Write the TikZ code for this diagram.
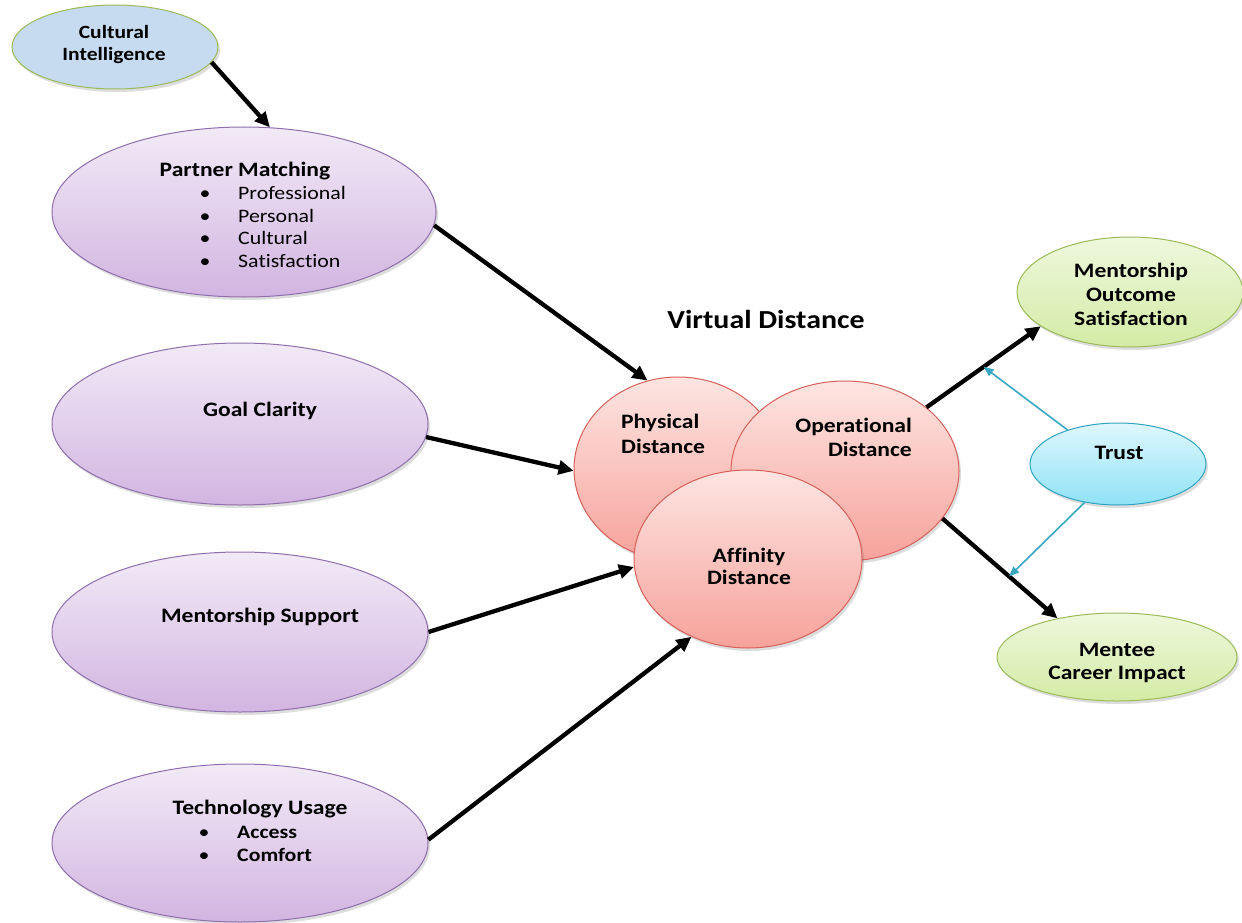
\documentclass[tikz,border=0pt]{standalone}
\usepackage{fontspec}
\setmainfont[FakeStretch=1.15, Ligatures={NoCommon}]{Carlito}
\usetikzlibrary{shapes.geometric,arrows.meta,shadows}
\definecolor{purptop}{HTML}{F2EAF7}
\definecolor{purpbot}{HTML}{D2B5E1}
\definecolor{purpline}{HTML}{8E6FAC}
\definecolor{pinktop}{HTML}{FDE5E2}
\definecolor{pinkbot}{HTML}{F7A29B}
\definecolor{pinkline}{HTML}{D6605A}
\definecolor{greentop}{HTML}{EEF8DD}
\definecolor{greenbot}{HTML}{D3EBA5}
\definecolor{greenline}{HTML}{9BBB59}
\definecolor{bluetop}{HTML}{DFF7FD}
\definecolor{bluebot}{HTML}{8FE2F6}
\definecolor{blueline}{HTML}{2EA3C0}
\definecolor{cifill}{HTML}{C6DBEF}
\definecolor{tealarrow}{HTML}{37A7C2}
\tikzset{
  shad/.style={drop shadow={opacity=0.22, shadow xshift=2pt, shadow yshift=-3pt, fill=black!60}},
  base/.style={ellipse, inner sep=0pt, line width=1pt, shad},
  purp/.style={base, draw=purpline, top color=purptop, bottom color=purpbot},
  pink/.style={base, draw=pinkline, top color=pinktop, bottom color=pinkbot},
  green/.style={base, draw=greenline, top color=greentop, bottom color=greenbot},
  blue/.style={base, draw=blueline, top color=bluetop, bottom color=bluebot},
  lab/.style={font=\fontsize{20.5}{24}\selectfont\bfseries, inner sep=0pt, anchor=base},
  cilab/.style={font=\fontsize{18.7}{22}\selectfont\bfseries, inner sep=0pt, anchor=base},
  itemr/.style={font=\fontsize{19}{23}\selectfont, inner sep=0pt, anchor=base west},
  itemb/.style={font=\fontsize{19}{23}\selectfont\bfseries, inner sep=0pt, anchor=base west},
  bul/.style={font=\fontsize{19}{23}\selectfont, inner sep=0pt, anchor=base},
  arr/.style={line width=4.3pt, -{Triangle[length=15pt,width=14pt]}},
  tarr/.style={draw=tealarrow, line width=1.6pt, -{Triangle[length=10pt,width=8pt]}},
}
\begin{document}
\begin{tikzpicture}[x=1pt,y=-1pt]
\useasboundingbox (0,0) rectangle (1242,923);
\fill[white] (0,0) rectangle (1242,923);

% ellipses
\node[base, draw=greenline, fill=cifill, minimum width=206pt, minimum height=84pt] (ci) at (115,47) {};
\node[purp, minimum width=384pt, minimum height=170pt] (pm) at (244,212) {};
\node[purp, minimum width=376pt, minimum height=162pt] (gc) at (240,424) {};
\node[purp, minimum width=376pt, minimum height=160pt] (ms) at (240,632) {};
\node[purp, minimum width=376pt, minimum height=158pt] (tu) at (240,843) {};
\node[pink, minimum width=208pt, minimum height=184pt] (pd) at (678,469) {};
\node[pink, minimum width=228pt, minimum height=180pt] (od) at (845,471) {};
\node[pink, minimum width=228pt, minimum height=178pt] (ad) at (748,559) {};
\node[green, minimum width=226pt, minimum height=110pt] (mos) at (1130,292) {};
\node[blue, minimum width=176pt, minimum height=82pt] (tr) at (1118,464) {};
\node[green, minimum width=240pt, minimum height=88pt] (mci) at (1117,657) {};

% texts
\node[cilab] (ci1) at (114,39) {Cultural};
\node[cilab] (ci2) at (114,61) {Intelligence};
\node[lab] (pmt) at (245,176) {Partner Matching};
\node[bul] (pmb1) at (205,199) {•};
\node[bul] (pmb2) at (205,222) {•};
\node[bul] (pmb3) at (205,244) {•};
\node[bul] (pmb4) at (205,267) {•};
\node[itemr] (pm1) at (238,199) {Professional};
\node[itemr] (pm2) at (238,222) {Personal};
\node[itemr] (pm3) at (238,244) {Cultural};
\node[itemr] (pm4) at (238,267) {Satisfaction};
\node[lab] (gct) at (260,416) {Goal Clarity};
\node[lab] (mst) at (260,622) {Mentorship Support};
\node[lab] (tut) at (260,814) {Technology Usage};
\node[bul] (tub1) at (204,838) {•};
\node[bul] (tub2) at (204,861) {•};
\node[itemb] (tu1) at (237,838) {Access};
\node[itemb] (tu2) at (237,861) {Comfort};
\node[lab, font=\fontsize{26}{30}\selectfont\bfseries] (vd) at (766,328) {Virtual Distance};
\node[lab, anchor=base west] (pd1) at (621,428) {Physical};
\node[lab, anchor=base west] (pd2) at (621,453) {Distance};
\node[lab, anchor=base east] (od1) at (912,432) {Operational};
\node[lab, anchor=base east] (od2) at (912,456) {Distance};
\node[lab] (ad1) at (749,562) {Affinity};
\node[lab] (ad2) at (749,584) {Distance};
\node[lab] (mos1) at (1131,277) {Mentorship};
\node[lab] (mos2) at (1131,301) {Outcome};
\node[lab] (mos3) at (1131,325) {Satisfaction};
\node[lab] (trt) at (1119,459) {Trust};
\node[lab] (mci1) at (1117,656) {Mentee};
\node[lab] (mci2) at (1117,679) {Career Impact};

% black arrows
\draw[arr] (ci.-9) -- (pm.73);
\draw[arr] (pm.-4) -- (pd.109.5);
\draw[arr] (gc.-4) -- (pd.181.5);
\draw[arr] (ms.0) -- (ad.184);
\draw[arr] (tu.1.5) -- (ad.234);
\draw[arr] (od.38) -- (mos.201) coordinate[pos=0.5] (t1);
\draw[arr] (od.-26.6) -- (mci.147) coordinate[pos=0.58] (t2);

% trust arrows
\draw[tarr] (tr.146.6) -- (t1);
\draw[tarr] (tr.229.5) -- (t2);
\end{tikzpicture}
\end{document}
